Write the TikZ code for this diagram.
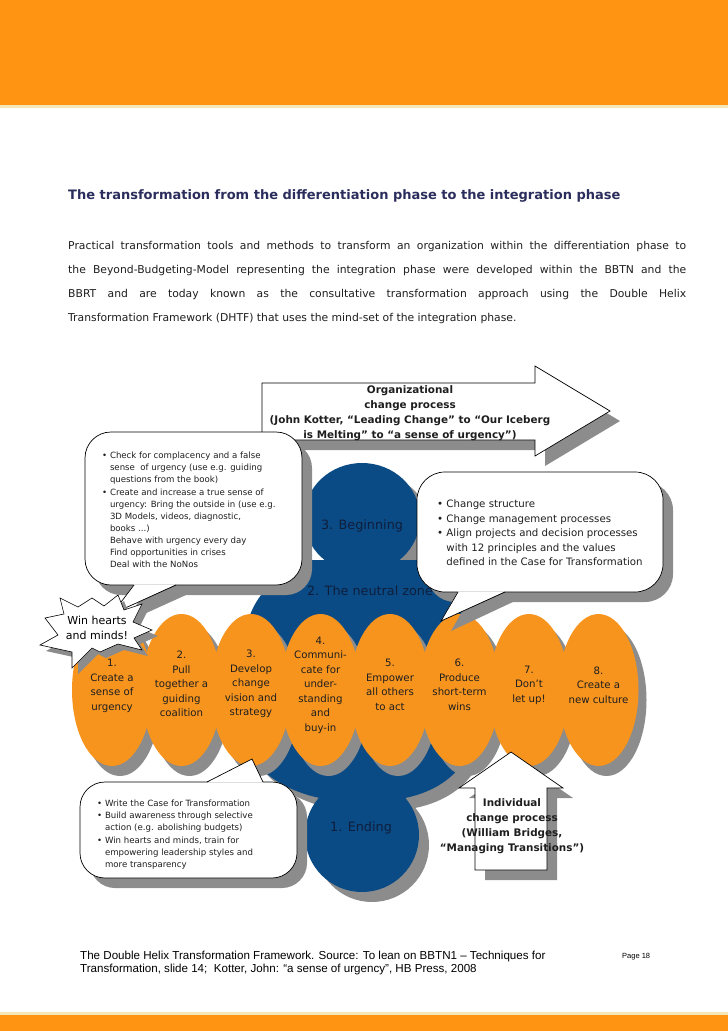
\documentclass[tikz,border=0pt]{standalone}
\usepackage{fontspec}
\setmainfont{DejaVu Sans}
\newfontfamily\arialfont{Liberation Sans}
\usepackage{tikz}
\usetikzlibrary{shapes.geometric}
\definecolor{orangeband}{HTML}{FF9412}
\definecolor{paleline}{HTML}{F6E7B9}
\definecolor{orangeoval}{HTML}{F7941E}
\definecolor{figblue}{HTML}{0B4B85}
\definecolor{shadowgray}{HTML}{8C8C8C}
\definecolor{titlenavy}{HTML}{2B2D5C}
\definecolor{inkdark}{HTML}{1E1E1E}
\definecolor{zonenavy}{HTML}{0E1E3C}
\newcommand{\blt}{\textbullet\ }
\newcommand{\indt}{\phantom{\textbullet\ }}

\begin{document}
\begin{tikzpicture}[x=1pt,y=-1pt,every node/.style={inner sep=0pt,text=inkdark},
   shadowfill/.style={fill=shadowgray,draw=none},
   ovalbox/.style={ellipse,fill=orangeoval,minimum width=80pt,minimum height=152pt},
   ovaltxt/.style={align=center,font=\fontsize{10.2}{14.5}\selectfont},
   callbox/.style={fill=white,draw=black,line width=0.7pt},
   calltxt/.style={align=left,anchor=north west,font=\fontsize{8.6}{12.1}\selectfont},
   arrowbox/.style={fill=white,draw=black,line width=0.7pt},
   arrowtxt/.style={align=center,font=\fontsize{10.4}{15}\selectfont\bfseries},
   zonetxt/.style={text=zonenavy,font=\fontsize{12.8}{15}\selectfont}]
\useasboundingbox (0,0) rectangle (728,1031);
% page bands
\fill[orangeband] (0,0) rectangle (728,105);
\fill[paleline] (0,105) rectangle (728,108);
\fill[paleline] (0,1012) rectangle (728,1015);
\fill[orangeband] (0,1015) rectangle (728,1031);
% heading and text
\node[anchor=base west,text=titlenavy,font=\fontsize{13}{15}\selectfont\bfseries] (title) at (68,199)
  {The transformation from the differentiation phase to the integration phase};
\node[anchor=north west,text width=618pt,align=justify,font=\fontsize{10.8}{24}\selectfont] (intro) at (68,241)
  {Practical transformation tools and methods to transform an organization within the differentiation phase to\linebreak
   the Beyond-Budgeting-Model representing the integration phase were developed within the BBTN and the\linebreak
   BBRT and are today known as the consultative transformation approach using the Double Helix\linebreak
   Transformation Framework (DHTF) that uses the mind-set of the integration phase.};
% organizational change arrow
\foreach \d/\sty in {10/shadowfill,0/arrowbox}
  \path[\sty,shift={(\d,\d)}] (262,383) -- (535,383) -- (535,366) -- (610,411)
    -- (535,456) -- (535,440) -- (262,440) -- cycle;
\node[arrowtxt] (orgtxt) at (410,413) {Organizational\\change process\\(John Kotter, “Leading Change” to “Our Iceberg\\is Melting” to “a sense of urgency”)};
% blue figure
\foreach \d/\col in {10/shadowgray,0/figblue}{
  \begin{scope}[shift={(\d,\d)}]
    \fill[\col] (362,518) ellipse [x radius=58,y radius=55];
    \fill[\col] (305,560) .. controls (270,580) and (246,600) .. (243,650) -- (244,745)
      .. controls (258,775) and (290,792) .. (320,798) -- (405,798)
      .. controls (435,792) and (462,775) .. (472,745) -- (472,650)
      .. controls (470,605) and (450,580) .. (420,560) -- cycle;
    \fill[\col] (362,835) circle [radius=57];
  \end{scope}}
\node[zonetxt] (begin) at (362,526) {3. Beginning};
\node[zonetxt] (neutral) at (370,591) {2. The neutral zone};
\node[zonetxt] (ending) at (361,828) {1. Ending};
% Kotter's eight steps
\foreach \i/\ty/\txt in {1/686/{1.\\Create a\\sense of\\urgency},2/684/{2.\\Pull\\together a\\guiding\\coalition},
    3/684/{3.\\Develop\\change\\vision and\\strategy},4/685/{4.\\Communi-\\cate for\\under-\\standing\\and\\buy-in},
    5/685/{5.\\Empower\\all others\\to act},6/685/{6.\\Produce\\short-term\\wins},7/685/{7.\\Don’t\\let up!},
    8/685/{8.\\Create a\\new culture}}{
  \pgfmathsetmacro\cx{112+69.5*(\i-1)}
  \node[ovalbox,fill=shadowgray] (s\i) at (\cx+8,700) {};
  \node[ovalbox] (o\i) at (\cx,690) {};
  \node[ovaltxt] (t\i) at (\cx,\ty) {\txt};
}
% callout: sense of urgency
\fill[shadowfill,rounded corners=26] (95,442) rectangle (312,595);
\fill[shadowfill] (186,595) -- (122,624) -- (144,595) -- cycle;
\draw[callbox,rounded corners=26] (85,432) rectangle (302,585);
\fill[white] (176,584.4) -- (112,614) -- (134,584.4) -- cycle;
\draw[black,line width=0.7pt] (176,585) -- (112,614) -- (134,585);
\node[calltxt] (urgtxt) at (102,452) {\blt Check for complacency and a false\\
  \indt sense\ \ of urgency (use e.g. guiding\\
  \indt questions from the book)\\
  \blt Create and increase a true sense of\\
  \indt urgency: Bring the outside in (use e.g.\\
  \indt 3D Models, videos, diagnostic,\\
  \indt books ...)\\
  \indt Behave with urgency every day\\
  \indt Find opportunities in crises\\
  \indt Deal with the NoNos};
% callout: structure
\fill[shadowfill,rounded corners=28] (427,482) rectangle (673,602);
\fill[shadowfill] (515,601) -- (451,631) -- (468,601) -- cycle;
\draw[callbox,rounded corners=28] (417,472) rectangle (663,592);
\fill[white] (505,591.4) -- (441,621) -- (458,591.4) -- cycle;
\draw[black,line width=0.7pt] (505,592) -- (441,621) -- (458,592);
\node[calltxt,font=\fontsize{10.2}{14.5}\selectfont] (structtxt) at (437,500) {\blt Change structure\\
  \blt Change management processes\\
  \blt Align projects and decision processes\\
  \indt with 12 principles and the values\\
  \indt defined in the Case for Transformation};
% explosion
\foreach \d/\sty in {6/shadowfill,0/callbox}
  \path[\sty,line width=0.6pt,shift={(\d,\d)}] (40,645) -- (58,635) -- (45,618) -- (64,614) -- (60,598)
    -- (78,607) -- (92,598) -- (104,606) -- (118,595) -- (124,610) -- (142,604) -- (133,622) -- (152,630)
    -- (134,638) -- (142,650) -- (118,644) -- (100,652) -- (92,648) -- (72,668) -- (72,652) -- cycle;
\node[align=center,text=black,font=\fontsize{11}{15}\selectfont] (wintxt) at (97,628) {Win hearts\\and minds!};
% callout: case for transformation
\fill[shadowfill,rounded corners=25] (90,792) rectangle (307,888);
\draw[callbox,rounded corners=25] (80,782) rectangle (297,878);
\fill[white] (207,782.6) -- (252,759) -- (263,782.6) -- cycle;
\draw[black,line width=0.7pt] (207,782) -- (252,759) -- (263,782);
\node[calltxt] (casetxt) at (97,800) {\blt Write the Case for Transformation\\
  \blt Build awareness through selective\\
  \indt action (e.g. abolishing budgets)\\
  \blt Win hearts and minds, train for\\
  \indt empowering leadership styles and\\
  \indt more transparency};
% individual change arrow
\foreach \d/\sty in {10/shadowfill,0/arrowbox}
  \path[\sty,shift={(\d,\d)}] (475,870) -- (475,788) -- (459,788) -- (511,752)
    -- (563,788) -- (547,788) -- (547,870) -- cycle;
\node[arrowtxt] (indtxt) at (512,826) {Individual\\change process\\(William Bridges,\\“Managing Transitions”)};
% source
\node[anchor=base west,align=left,text=black,font=\arialfont\fontsize{11.6}{13}\selectfont] (source) at (80,972)
  {The Double Helix Transformation Framework. Source: To lean on BBTN1 – Techniques for\\
   Transformation, slide 14;\ \ Kotter, John: “a sense of urgency”, HB Press, 2008};
\node[anchor=base west,text=black,font=\arialfont\fontsize{7.5}{9}\selectfont] (page) at (622,958) {Page 18};
\end{tikzpicture}
\end{document}
